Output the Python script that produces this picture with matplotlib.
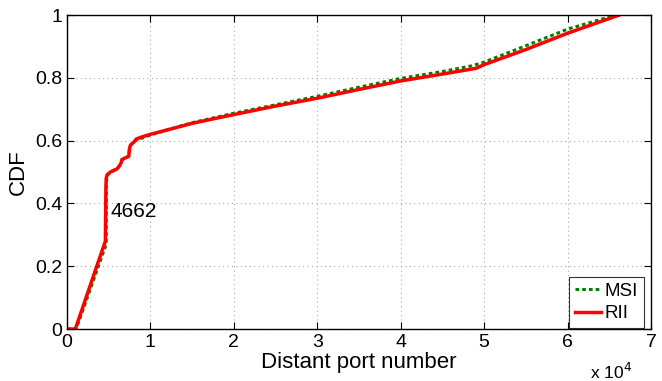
import matplotlib
matplotlib.use("Agg")
import matplotlib.pyplot as plt

plt.rcParams['font.family'] = ['Liberation Sans', 'DejaVu Sans']

# Data (port numbers, CDF)
msi_x = [0, 1100, 4700, 4720, 4800, 5200, 6000, 6300, 6500, 6600, 7000, 7400, 7500, 7600,
         8000, 8400, 9000, 10000, 15000, 20000, 25000, 30000, 35000, 40000, 45000, 48500,
         50000, 55000, 60000, 65800]
msi_y = [0, 0, 0.27, 0.46, 0.49, 0.50, 0.51, 0.52, 0.53, 0.54, 0.545, 0.55, 0.575, 0.585,
         0.595, 0.603, 0.608, 0.618, 0.657, 0.687, 0.714, 0.741, 0.77, 0.798, 0.82, 0.838,
         0.850, 0.902, 0.955, 1.0]

rii_x = [0, 1000, 4600, 4662, 4700, 4800, 5200, 6000, 6300, 6500, 6600, 7000, 7400, 7500,
         7600, 8000, 8300, 9000, 10000, 15000, 20000, 25000, 30000, 35000, 40000, 45000,
         49000, 50000, 55000, 60000, 66200]
rii_y = [0, 0, 0.28, 0.45, 0.48, 0.49, 0.50, 0.51, 0.52, 0.53, 0.54, 0.545, 0.55, 0.575,
         0.585, 0.595, 0.605, 0.612, 0.62, 0.655, 0.683, 0.71, 0.735, 0.763, 0.79, 0.812,
         0.83, 0.842, 0.89, 0.942, 1.0]

x_ticks = [0, 10000, 20000, 30000, 40000, 50000, 60000, 70000]
x_tick_labels = ['0', '1', '2', '3', '4', '5', '6', '7']
y_ticks = [0, 0.2, 0.4, 0.6, 0.8, 1.0]
y_tick_labels = ['0', '0.2', '0.4', '0.6', '0.8', '1']

annot_x = 4662
annot_label = '4662'

fig = plt.figure(figsize=(6.62, 3.81), dpi=100)
ax = fig.add_axes([67/662, 52/381, 584/662, 314/381])

ax.plot(msi_x, msi_y, color='#008000', lw=2.2, linestyle=(0, (1.2, 1.0)), label='MSI')
ax.plot(rii_x, rii_y, color='#ff0000', lw=2.5, label='RII')

ax.set_xlim(0, 70000)
ax.set_ylim(0, 1)
ax.set_xticks(x_ticks)
ax.set_xticklabels(x_tick_labels)
ax.set_yticks(y_ticks)
ax.set_yticklabels(y_tick_labels)
ax.tick_params(direction='in', top=True, right=True, length=5, labelsize=14, width=0.8)
ax.grid(True, linestyle=(0, (1, 3)), color='#aaaaaa', lw=0.8)
for s in ax.spines.values():
    s.set_linewidth(1.0)

ax.set_xlabel('Distant port number', fontsize=16, labelpad=1)
ax.set_ylabel('CDF', fontsize=16, labelpad=4)

ax.text(annot_x + 500, 0.375, annot_label, fontsize=15, ha='left', va='center')
fig.text(590/662, 1 - 372/381, r'x 10$^4$', fontsize=12.5, ha='left', va='center')

leg = ax.legend(loc='lower right', bbox_to_anchor=(644/662, 53/381),
                bbox_transform=fig.transFigure, fontsize=13.5, frameon=True, fancybox=False,
                edgecolor='black', handlelength=1.4, handletextpad=0.2,
                borderpad=0.3, labelspacing=0.3, borderaxespad=0.0)
leg.get_frame().set_linewidth(0.8)

fig.savefig('out.png', dpi=100)
